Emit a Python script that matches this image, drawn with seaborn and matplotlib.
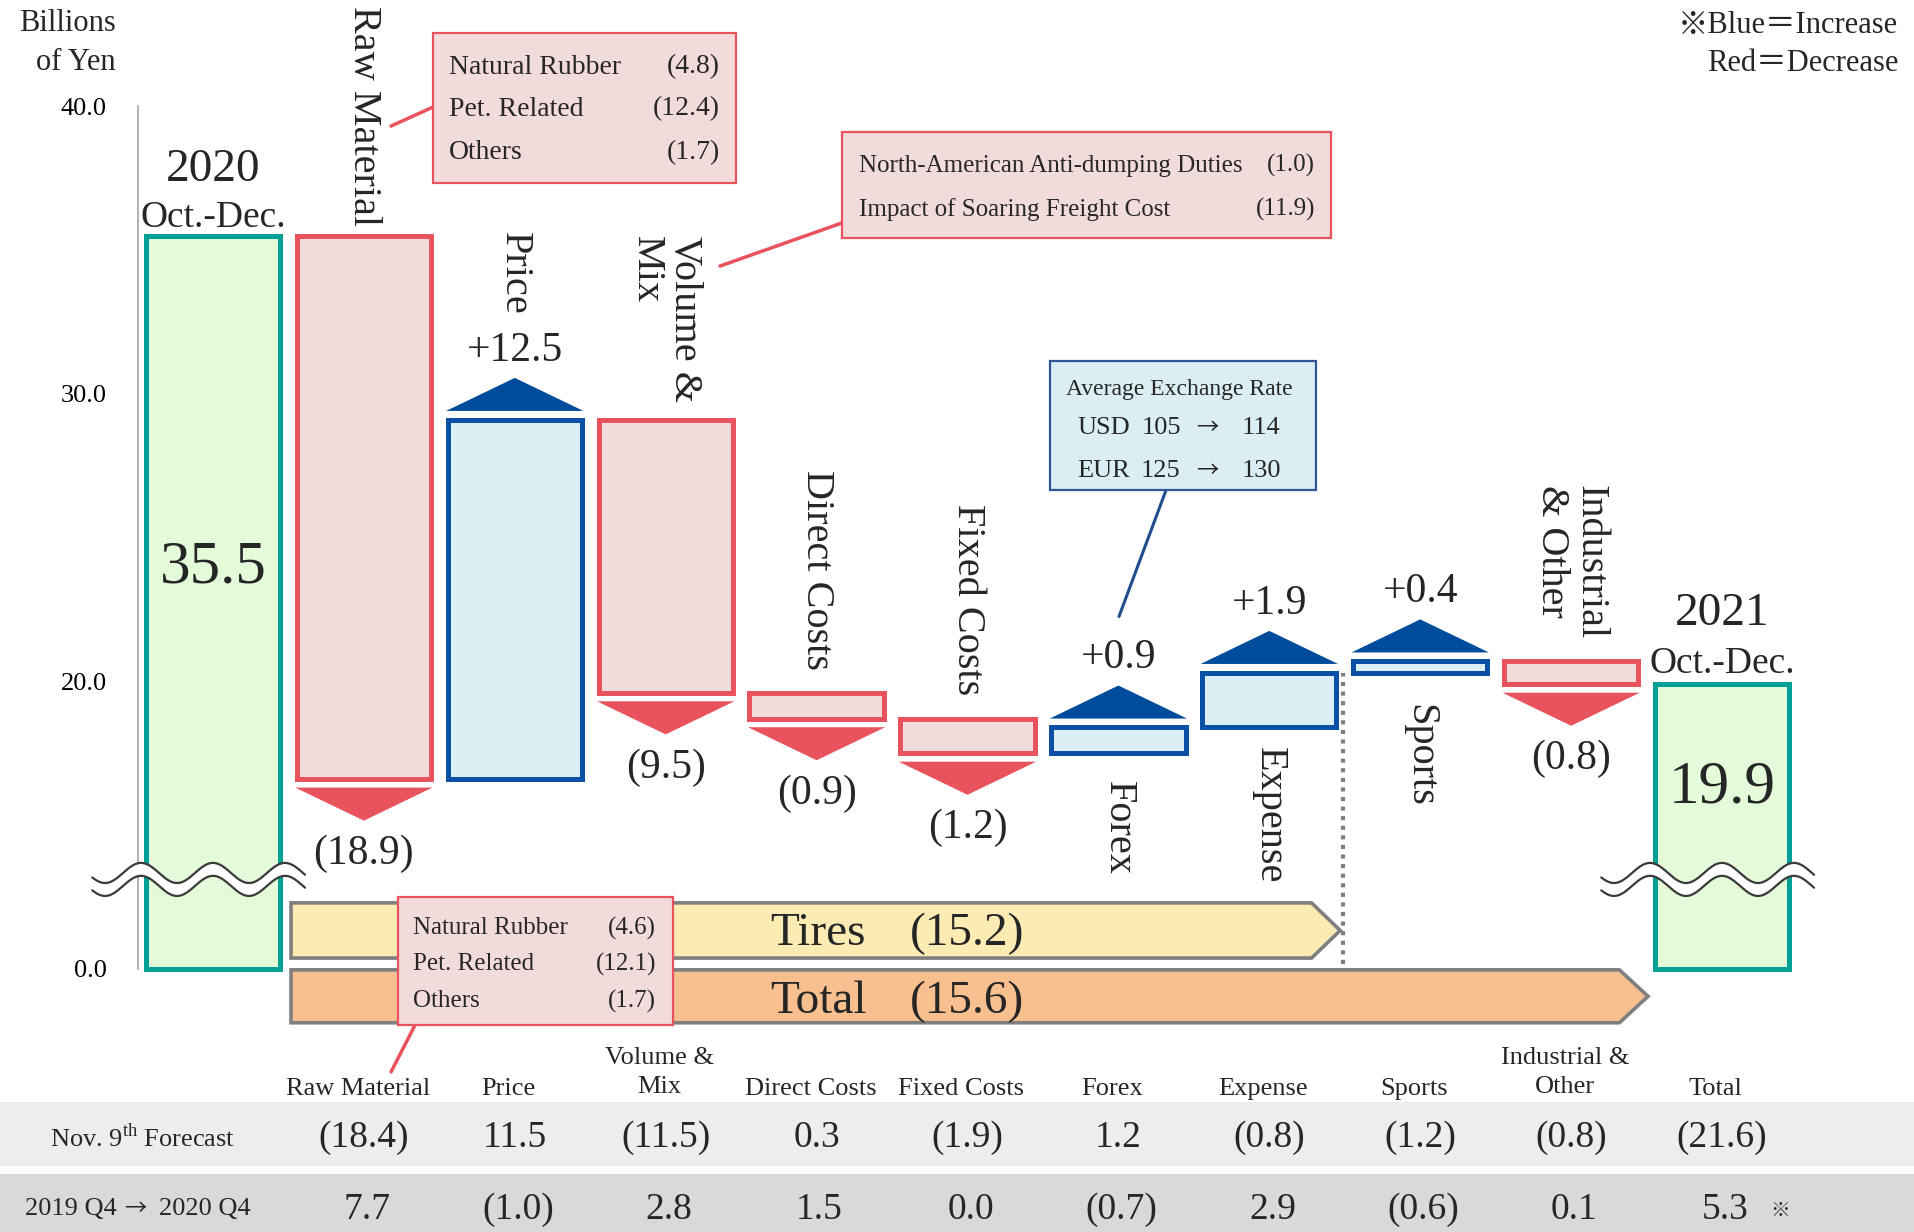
import numpy as np
import pandas as pd
import matplotlib
matplotlib.use("Agg")
import matplotlib.pyplot as plt
from matplotlib.patches import Polygon, Rectangle
import seaborn as sns

# ---------------- data ----------------
steps = ["2020 Oct.-Dec.", "Raw Material", "Price", "Volume & Mix", "Direct Costs",
         "Fixed Costs", "Forex", "Expense", "Sports", "Industrial & Other", "2021 Oct.-Dec."]
start_value = 35.5
deltas = [-18.9, 12.5, -9.5, -0.9, -1.2, 0.9, 1.9, 0.4, -0.8]
end_value = 19.9

step_labels = ["Raw Material", "Price", "Volume &\nMix", "Direct Costs", "Fixed Costs",
               "Forex", "Expense", "Sports", "Industrial\n& Other"]
step_label_tops = [43.49, 35.62, 35.48, 27.35, 26.16, 16.54, 17.72, 19.22, 26.82]

table_headers = ["Raw Material", "Price", "Volume &\nMix", "Direct Costs", "Fixed Costs",
                 "Forex", "Expense", "Sports", "Industrial &\nOther", "Total"]
forecast_nov9 = [-18.4, 11.5, -11.5, 0.3, -1.9, 1.2, -0.8, -1.2, -0.8, -21.6]
change_2019_2020 = [7.7, -1.0, 2.8, 1.5, 0.0, -0.7, 2.9, -0.6, 0.1, 5.3]

raw_items = ["Natural Rubber", "Pet. Related", "Others"]
raw_items_quarter = [-4.8, -12.4, -1.7]
raw_items_forecast = [-4.6, -12.1, -1.7]
volume_items = ["North-American Anti-dumping Duties", "Impact of Soaring Freight Cost"]
volume_item_values = [-1.0, -11.9]
currencies = ["USD", "EUR"]
rate_prev = [105, 125]
rate_curr = [114, 130]
segment_names = ["Tires", "Total"]
segment_values = [-15.2, -15.6]

# ---------------- style ----------------
sns.set_theme(style="white")
plt.rcParams["font.family"] = ["Liberation Serif", "Noto Sans CJK JP"]
plt.rcParams["mathtext.fontset"] = "custom"
plt.rcParams["mathtext.rm"] = "Liberation Serif"
ARROW_FONT = ["Noto Sans CJK JP"]

TEAL, GREEN_FACE = "#00a096", "#e3fbd9"
RED, PINK_FACE = "#e8535d", "#f2dcdb"
BLUE, BLUE_EDGE, BLUE_FACE = "#004c9c", "#0a50a5", "#dbeef4"

def fmt(v):
    return f"({abs(v):.1f})" if v < 0 else f"{v:.1f}"

# the value axis is broken: "0.0" sits at this plotted level
AXIS_ZERO = 10.0
BAR_W = 0.89

levels = start_value + np.cumsum(deltas)
prev = np.concatenate([[start_value], levels[:-1]])
lows = np.minimum(prev, levels)
bars = pd.DataFrame({
    "step": steps,
    "base": np.concatenate([[AXIS_ZERO], lows, [AXIS_ZERO]]),
    "height": np.concatenate([[start_value - AXIS_ZERO], np.abs(deltas), [end_value - AXIS_ZERO]]),
    "kind": ["total"] + ["up" if d > 0 else "down" for d in deltas] + ["total"],
})

fig = plt.figure(figsize=(19.14, 12.32), dpi=100)
ax = fig.add_axes([0, 0, 1, 1])

sns.barplot(data=bars, x="step", y="height", order=steps, bottom=bars["base"].to_numpy(),
            width=BAR_W, errorbar=None, color="white", ax=ax, zorder=2)
styles = {"total": (GREEN_FACE, TEAL), "up": (BLUE_FACE, BLUE_EDGE), "down": (PINK_FACE, RED)}
for patch, kind in zip(ax.patches, bars["kind"]):
    fc, ec = styles[kind]
    patch.set_facecolor(fc)
    patch.set_edgecolor(ec)
    patch.set_linewidth(3.6)
    patch.set_joinstyle("miter")

ax.set_xlim(-213 / 150.9, (1914 - 213) / 150.9)
ax.set_ylim(20 - (1232 - 681.2) / 28.75, 20 + 681.2 / 28.75)
ax.set_xlabel("")
ax.set_ylabel("")
ax.set_xticks([])
for s in ["top", "right", "bottom"]:
    ax.spines[s].set_visible(False)
ax.spines["left"].set_position(("data", -0.5))
ax.spines["left"].set_bounds(AXIS_ZERO, 40)
ax.spines["left"].set_color("#a6a6a6")
ax.spines["left"].set_linewidth(1.2)
ax.set_yticks([AXIS_ZERO, 20, 30, 40], ["0.0", "20.0", "30.0", "40.0"])
ax.tick_params(axis="y", length=0, pad=22, labelsize=19, labelcolor="black")
ax.grid(False)

# arrow heads and value labels for each step
GAP, TRI_H, HALF = 0.3, 1.15, 0.455
for i, (d, lv) in enumerate(zip(deltas, levels)):
    c = i + 1
    if d < 0:
        b = lv - GAP
        tri = [(c - HALF, b), (c + HALF, b), (c, b - TRI_H)]
        ax.add_patch(Polygon(tri, closed=True, facecolor=RED, edgecolor="none", zorder=3))
        ax.text(c, b - TRI_H - 1.15, fmt(d), ha="center", va="center", fontsize=30)
    else:
        b = lv + GAP
        tri = [(c - HALF, b), (c + HALF, b), (c, b + TRI_H)]
        ax.add_patch(Polygon(tri, closed=True, facecolor=BLUE, edgecolor="none", zorder=3))
        ax.text(c, b + TRI_H + 0.95, f"+{d:.1f}", ha="center", va="center", fontsize=30)

for c, lab, top in zip(range(1, 10), step_labels, step_label_tops):
    ax.text(c, top, lab, rotation=-90, ha="center", va="top", fontsize=29,
            multialignment="left", linespacing=1.05)

# period totals
n_last = len(steps) - 1
ax.text(0, start_value + 2.3, "2020", ha="center", va="center", fontsize=34)
ax.text(0, start_value + 0.63, "Oct.-Dec.", ha="center", va="center", fontsize=27)
ax.text(0, 23.95, f"{start_value:.1f}", ha="center", va="center", fontsize=44, zorder=4)
ax.text(n_last, end_value + 2.44, "2021", ha="center", va="center", fontsize=34)
ax.text(n_last, end_value + 0.72, "Oct.-Dec.", ha="center", va="center", fontsize=27)
ax.text(n_last, 16.3, f"{end_value:.1f}", ha="center", va="center", fontsize=44, zorder=4)

# axis-break waves over the total bars
def draw_break(xc):
    x = np.linspace(xc - 0.8, xc + 0.61, 400)
    wave = 0.35 * np.cos(2 * np.pi * (x - xc) / 0.477)
    upper = 13.33 + wave
    lower = 12.88 + wave
    ax.fill_between(x, lower, upper, color="white", zorder=5, linewidth=0)
    ax.plot(x, upper, color="#3a3a3a", lw=1.6, zorder=6)
    ax.plot(x, lower, color="#3a3a3a", lw=1.6, zorder=6)

draw_break(0)
draw_break(n_last)

# segment arrows
def seg_arrow(x1, y0, y1, face):
    pts = [(0.517, y0), (x1 - 0.19, y0), (x1, (y0 + y1) / 2), (x1 - 0.19, y1), (0.517, y1)]
    ax.add_patch(Polygon(pts, closed=True, facecolor=face, edgecolor="#7f7f7f", lw=2.6,
                         joinstyle="miter", zorder=2))

seg_arrow(7.47, 10.37, 12.29, "#fdebb4")
seg_arrow(9.51, 8.12, 9.96, "#f8c08f")
for name, val, yc in zip(segment_names, segment_values, [11.2, 8.86]):
    ax.text(4.01, yc, name, ha="center", va="center", fontsize=34, zorder=3)
    ax.text(5.0, yc, fmt(val), ha="center", va="center", fontsize=34, zorder=3)

ax.plot([7.49, 7.49], [10.16, levels[6]], color="#7f7f7f", lw=3,
        linestyle=(0, (1, 1.3)), zorder=1)

# breakdown boxes
def box(x0, x1, y0, y1, face, edge):
    ax.add_patch(Rectangle((x0, y0), x1 - x0, y1 - y0, facecolor=face, edgecolor=edge,
                           lw=1.6, zorder=6))

box(1.458, 3.466, 37.33, 42.55, PINK_FACE, RED)
for name, v, y in zip(raw_items, raw_items_quarter, [41.36, 39.9, 38.4]):
    ax.text(1.564, y, name, ha="left", va="center", fontsize=20, zorder=7)
    ax.text(3.36, y, fmt(v), ha="right", va="center", fontsize=20, zorder=7)
ax.plot([1.458, 1.18], [39.97, 39.31], color=RED, lw=2.5, zorder=5)

box(4.168, 7.409, 35.42, 39.10, PINK_FACE, RED)
for name, v, y in zip(volume_items, volume_item_values, [37.93, 36.4]):
    ax.text(4.281, y, name, ha="left", va="center", fontsize=18, zorder=7)
    ax.text(7.303, y, fmt(v), ha="right", va="center", fontsize=18, zorder=7)
ax.plot([4.168, 3.36], [35.94, 34.44], color=RED, lw=2.5, zorder=5)

box(5.547, 7.309, 26.65, 31.14, BLUE_FACE, "#2f5597")
ax.text(6.402, 30.14, "Average Exchange Rate", ha="center", va="center", fontsize=17, zorder=7)
for cur, a, b, y in zip(currencies, rate_prev, rate_curr, [28.82, 27.32]):
    ax.text(5.726, y, cur, ha="left", va="center", fontsize=19, zorder=7)
    ax.text(6.282, y, f"{a}", ha="center", va="center", fontsize=19, zorder=7)
    ax.text(6.587, y, "→", ha="center", va="center", fontsize=16, zorder=7, family=ARROW_FONT)
    ax.text(6.945, y, f"{b}", ha="center", va="center", fontsize=19, zorder=7)
ax.plot([6.316, 6.004], [26.65, 22.25], color="#1f4e8c", lw=2.2, zorder=5)

box(1.226, 3.048, 8.04, 12.49, PINK_FACE, RED)
for name, v, y in zip(raw_items, raw_items_forecast, [11.4, 10.15, 8.86]):
    ax.text(1.325, y, name, ha="left", va="center", fontsize=18, zorder=7)
    ax.text(2.936, y, fmt(v), ha="right", va="center", fontsize=18, zorder=7)
ax.plot([1.339, 1.18], [8.04, 6.41], color=RED, lw=2.5, zorder=5)

# unit and colour key
ax.text(-0.643, 42.2, "Billions\nof Yen", ha="right", va="center", fontsize=22,
        multialignment="right", linespacing=1.45)
ax.text(11.166, 42.82, "※Blue＝Increase", ha="right", va="center", fontsize=22)
ax.text(11.166, 41.5, "Red＝Decrease", ha="right", va="center", fontsize=22)

# comparison table
ax.axhspan(3.14, 5.36, color="#ededed", zorder=0, lw=0)
ax.axhspan(0.0, 2.87, color="#d9d9d9", zorder=0, lw=0)
for c, h in zip(range(1, 11), table_headers):
    yc = 6.38 if "\n" in h else 5.82
    ax.text(c - 0.04, yc, h, ha="center", va="center", fontsize=19, linespacing=1.4)
ax.text(-0.47, 4.14, "Nov. 9$^{\\mathrm{th}}$ Forecast", ha="center", va="center", fontsize=19)
ax.text(-0.94, 1.63, "2019 Q4", ha="center", va="center", fontsize=19)
ax.text(-0.514, 1.66, "→", ha="center", va="center", fontsize=16, family=ARROW_FONT)
ax.text(-0.053, 1.63, "2020 Q4", ha="center", va="center", fontsize=19)
for c, a, b in zip(range(1, 11), forecast_nov9, change_2019_2020):
    ax.text(c, 4.12, fmt(a), ha="center", va="center", fontsize=27)
    ax.text(c + 0.02, 1.61, fmt(b), ha="center", va="center", fontsize=27)
ax.text(10.385, 1.55, "※", ha="center", va="center", fontsize=14)

fig.savefig("out.png", dpi=100, facecolor="white")
